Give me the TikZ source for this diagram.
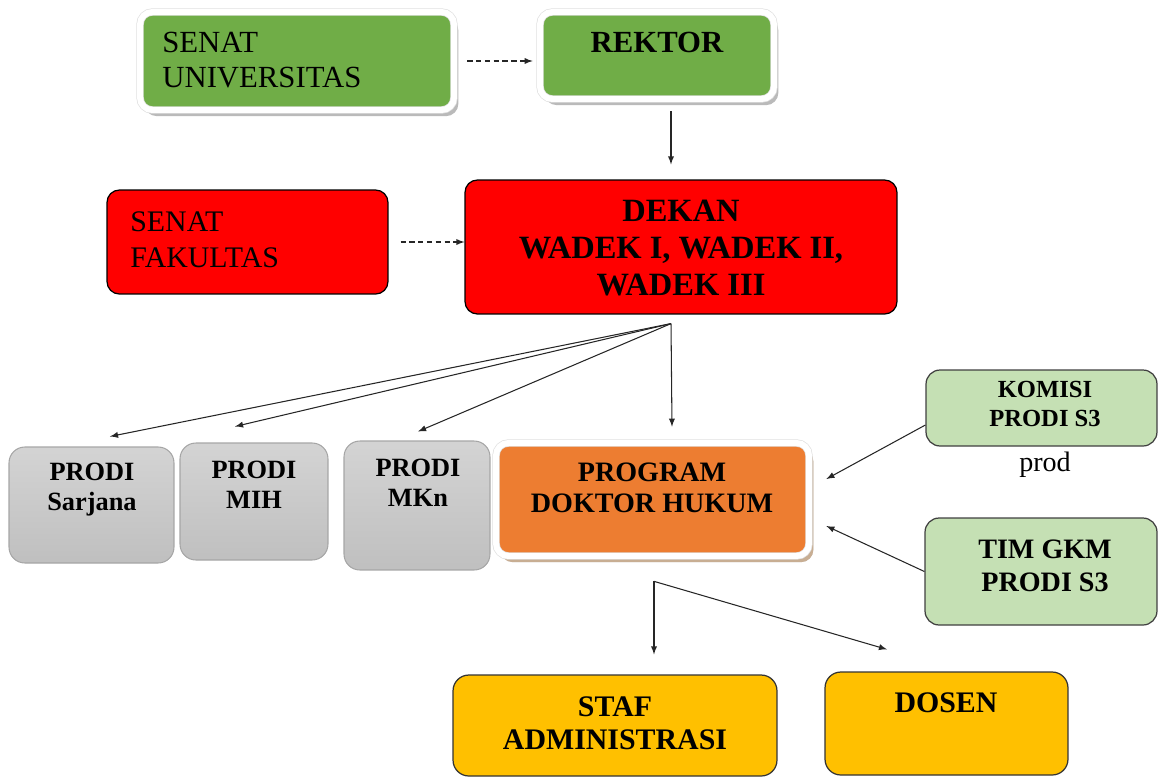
\documentclass[tikz,border=0pt]{standalone}
\usepackage{fontspec}
\setmainfont{Liberation Serif}
\usetikzlibrary{shadows,arrows}

\definecolor{senatgreen}{HTML}{70AD47}
\definecolor{dekanred}{HTML}{FF0000}
\definecolor{doktororange}{HTML}{ED7D31}
\definecolor{paleGreen}{HTML}{C5E0B4}
\definecolor{stafyellow}{HTML}{FFC000}

\begin{document}
\begin{tikzpicture}[x=0.02cm, y=-0.02cm,
    framed/.style={rounded corners=7pt, draw=black!12, double=white, double distance=3.4pt,
        drop shadow={shadow xshift=2.5pt, shadow yshift=-3.5pt, opacity=.6, fill=black!45}},
    greenbox/.style={framed, fill=senatgreen},
    orangebox/.style={framed, fill=doktororange,
        drop shadow={shadow xshift=2.5pt, shadow yshift=-3.5pt, opacity=.6, fill=brown!70!white}},
    redbox/.style={rounded corners=7pt, draw=black, line width=0.7pt, fill=dekanred},
    graybox/.style={rounded corners=9pt, draw=black!35, line width=0.6pt, top color=black!17, bottom color=black!25},
    palebox/.style={rounded corners=8pt, draw=black!75, line width=0.7pt, fill=paleGreen},
    yellowbox/.style={rounded corners=9pt, draw=black!80, line width=0.7pt, fill=stafyellow},
    txt/.style={inner sep=0pt, align=center},
    arr/.style={-latex, black!85, line width=0.6pt},
    dasharr/.style={arr, dash pattern=on 3pt off 2pt}]
    \useasboundingbox (0,0) rectangle (1159,778);

    % Senat universitas dan rektor
    \node[greenbox, minimum width=6.28cm, minimum height=1.96cm] (senatU) at (297,61) {};
    \node[txt, align=left, anchor=west, font=\fontsize{17.5}{19.6}\selectfont] (senatUtxt) at (162,60) {SENAT\\UNIVERSITAS};
    \node[greenbox, minimum width=4.68cm, minimum height=1.74cm] (rektor) at (657,55.5) {};
    \node[txt, font=\bfseries\fontsize{17.5}{19}\selectfont] (rektortxt) at (657,42) {REKTOR};

    % Senat fakultas dan dekan
    \node[redbox, minimum width=5.62cm, minimum height=2.08cm] (senatF) at (247.5,242) {};
    \node[txt, align=left, anchor=west, font=\fontsize{17}{20.5}\selectfont] (senatFtxt) at (130,240) {SENAT\\FAKULTAS};
    \node[redbox, minimum width=8.64cm, minimum height=2.68cm] (dekan) at (681,247) {};
    \node[txt, font=\bfseries\fontsize{18.5}{20.8}\selectfont] (dekantxt) at (681,248) {DEKAN\\WADEK I, WADEK II,\\WADEK III};

    % Prodi
    \node[graybox, minimum width=3.3cm, minimum height=2.32cm] (sarjana) at (91.5,505) {};
    \node[txt, font=\bfseries\fontsize{15}{17}\selectfont] (sarjanatxt) at (92,490) {PRODI\\Sarjana};
    \node[graybox, minimum width=2.96cm, minimum height=2.34cm] (mih) at (254,501.5) {};
    \node[txt, font=\bfseries\fontsize{15}{17}\selectfont] (mihtxt) at (254,485) {PRODI\\MIH};
    \node[graybox, minimum width=2.92cm, minimum height=2.58cm] (mkn) at (417,505.5) {};
    \node[txt, font=\bfseries\fontsize{15}{17}\selectfont] (mkntxt) at (418,483) {PRODI\\MKn};
    \node[orangebox, minimum width=6.26cm, minimum height=2.26cm] (doktor) at (652.5,499.5) {};
    \node[txt, font=\bfseries\fontsize{16}{17.6}\selectfont] (doktortxt) at (652,488) {PROGRAM\\DOKTOR HUKUM};

    % Komisi dan tim gkm
    \node[palebox, minimum width=4.62cm, minimum height=1.52cm] (komisi) at (1041.5,408) {};
    \node[txt, font=\bfseries\fontsize{14}{16}\selectfont] (komisitxt) at (1045,404) {KOMISI\\PRODI S3};
    \node[txt, font=\fontsize{16}{16}\selectfont] (prodtxt) at (1045,465) {prod};
    \node[palebox, minimum width=4.64cm, minimum height=2.14cm] (timgkm) at (1041,571.5) {};
    \node[txt, font=\bfseries\fontsize{16}{18.8}\selectfont] (timgkmtxt) at (1045,566) {TIM GKM\\PRODI S3};

    % Staf dan dosen
    \node[yellowbox, minimum width=6.48cm, minimum height=2.02cm] (staf) at (615,725.5) {};
    \node[txt, font=\bfseries\fontsize{17}{18.8}\selectfont] (staftxt) at (615,723) {STAF\\ADMINISTRASI};
    \node[yellowbox, minimum width=4.86cm, minimum height=2.06cm] (dosen) at (946.5,723.5) {};
    \node[txt, font=\bfseries\fontsize{17}{19}\selectfont] (dosentxt) at (946,703) {DOSEN};

    % Garis
    \draw[dasharr, shorten <=0.26cm, shorten >=0.14cm] (senatU.east) -- (senatU.east -| rektor.west);
    \draw[arr, shorten <=0.24cm, shorten >=0.3cm] ([xshift=0.28cm]rektor.south) -- ([xshift=0.28cm]rektor.south |- dekan.north);
    \draw[dasharr, shorten <=0.24cm] (senatF.east) -- (senatF.east -| dekan.west);

    \coordinate (fan) at ([xshift=-0.2cm,yshift=-0.18cm]dekan.south);
    \foreach \t/\dx/\dy in {sarjana/0.37/0.2, mih/-0.38/0.32, mkn/0.02/0.18, doktor/0.39/0.32}
        \draw[arr] (fan) -- ([xshift=\dx cm,yshift=\dy cm]\t.north);

    \draw[arr] ([yshift=-0.34cm]komisi.west) -- ([xshift=0.34cm,yshift=0.41cm]doktor.east);
    \draw[arr] (timgkm.west) -- ([xshift=0.34cm,yshift=-0.53cm]doktor.east);

    \coordinate (split) at ([xshift=0.03cm,yshift=-0.5cm]doktor.south);
    \draw[arr, shorten >=0.4cm] (split) -- (split |- staf.north);
    \draw[arr] (split) -- ([xshift=-1.19cm,yshift=0.44cm]dosen.north);
\end{tikzpicture}
\end{document}
